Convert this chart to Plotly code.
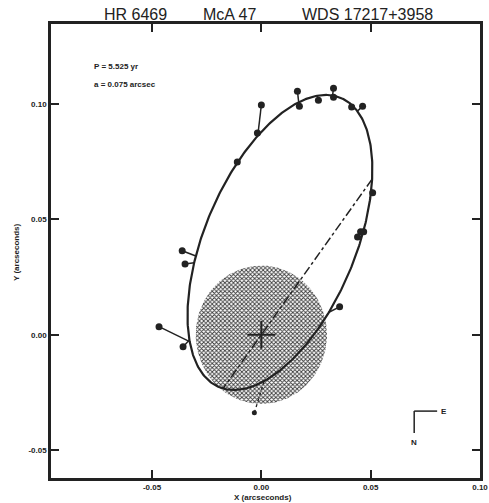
import numpy as np
import plotly.graph_objects as go

# ---- data (arcseconds) ----
obs_x = [0.0000, -0.0018, -0.0110, 0.0165, 0.0174, 0.0261, 0.0330, 0.0330, 0.0413, 0.0463,
         0.0509, 0.0454, 0.0468, 0.0440, -0.0362, -0.0349, -0.0468, -0.0358, 0.0358]
obs_y = [0.0996, 0.0874, 0.0749, 0.1056, 0.0991, 0.1017, 0.1069, 0.1030, 0.0987, 0.0991,
         0.0615, 0.0446, 0.0446, 0.0424, 0.0364, 0.0307, 0.0035, -0.0052, 0.0121]
pred_x = [-0.0018, -0.0018, -0.0110, 0.0174, 0.0174, 0.0257, 0.0330, 0.0330, 0.0404, 0.0445,
          0.0495, 0.0459, 0.0459, 0.0440, -0.0321, -0.0330, -0.0349, -0.0358, 0.0307]
pred_y = [0.0870, 0.0874, 0.0749, 0.1030, 0.1022, 0.1039, 0.1048, 0.1048, 0.1004, 0.0978,
          0.0628, 0.0437, 0.0437, 0.0424, 0.0338, 0.0307, -0.0052, -0.0052, 0.0100]

# doubtful observation (dotted residual)
dub_obs_x = [-0.0032]
dub_obs_y = [-0.0338]
dub_pred_x = [0.0014]
dub_pred_y = [-0.0190]

# apparent orbit ellipse
ell_cx, ell_cy = 0.0085, 0.0400
ell_a, ell_b = 0.0686, 0.0342
ell_theta_deg = 65.3
node_angle_deg = 53.1
circle_r = 0.030

period_txt = "P = 5.525 yr"
axis_txt = "a = 0.075 arcsec"
x_ticks = [-0.05, 0.00, 0.05, 0.10]
y_ticks = [-0.05, 0.00, 0.05, 0.10]
x_ticklabels = ["-0.05", "0.00", "0.05", "0.10"]
y_ticklabels = ["-0.05", "0.00", "0.05", "0.10"]

# ---- geometry ----
th = np.radians(ell_theta_deg)
e1 = np.array([np.cos(th), np.sin(th)])
e2 = np.array([-np.sin(th), np.cos(th)])
c = np.array([ell_cx, ell_cy])

t = np.linspace(0, 2 * np.pi, 400)
ex = ell_cx + ell_a * np.cos(t) * e1[0] + ell_b * np.sin(t) * e2[0]
ey = ell_cy + ell_a * np.cos(t) * e1[1] + ell_b * np.sin(t) * e2[1]


def snap(px, py):
    q = np.array([px, py]) - c
    u, v = q @ e1, q @ e2
    r = np.sqrt((u / ell_a) ** 2 + (v / ell_b) ** 2)
    u, v = u / r, v / r
    p = c + u * e1 + v * e2
    return p[0], p[1]


phi = np.radians(node_angle_deg)
d = np.array([np.cos(phi), np.sin(phi)])
du, dv = d @ e1, d @ e2
cu, cv = c @ e1, c @ e2
qa = du ** 2 / ell_a ** 2 + dv ** 2 / ell_b ** 2
qb = -2 * (du * cu / ell_a ** 2 + dv * cv / ell_b ** 2)
qc = cu ** 2 / ell_a ** 2 + cv ** 2 / ell_b ** 2 - 1
disc = np.sqrt(qb ** 2 - 4 * qa * qc)
s1, s2 = (-qb + disc) / (2 * qa), (-qb - disc) / (2 * qa)
node_x = [s1 * d[0], s2 * d[0]]
node_y = [s1 * d[1], s2 * d[1]]

fig = go.Figure()

# shaded circle around primary
ct = np.linspace(0, 2 * np.pi, 200)
fig.add_trace(go.Scatter(
    x=circle_r * np.cos(ct), y=circle_r * np.sin(ct), mode="lines",
    fill="toself", fillcolor="rgba(0,0,0,0)", line=dict(width=0, color="rgba(0,0,0,0)"),
    fillpattern=dict(shape="x", size=3, solidity=0.5, fgcolor="#3a3a3a", bgcolor="white",
                     fillmode="replace"),
    hoverinfo="skip", showlegend=False))

# line of nodes
fig.add_trace(go.Scatter(x=node_x, y=node_y, mode="lines",
                         line=dict(color="#222", width=1.5, dash="dashdot"),
                         showlegend=False))

# orbit
fig.add_trace(go.Scatter(x=ex, y=ey, mode="lines", line=dict(color="#222", width=2.2),
                         showlegend=False))

# residuals
rx, ry = [], []
for ox, oy, px_, py_ in zip(obs_x, obs_y, pred_x, pred_y):
    sx, sy = snap(px_, py_)
    rx += [ox, sx, None]
    ry += [oy, sy, None]
fig.add_trace(go.Scatter(x=rx, y=ry, mode="lines", line=dict(color="#222", width=1.5),
                         showlegend=False))
dx_, dy_ = [], []
for ox, oy, px_, py_ in zip(dub_obs_x, dub_obs_y, dub_pred_x, dub_pred_y):
    sx, sy = snap(px_, py_)
    dx_ += [ox, sx, None]
    dy_ += [oy, sy, None]
fig.add_trace(go.Scatter(x=dx_, y=dy_, mode="lines", line=dict(color="#222", width=1.3, dash="dot"),
                         showlegend=False))

# observations
fig.add_trace(go.Scatter(x=obs_x, y=obs_y, mode="markers",
                         marker=dict(color="#222", size=7), showlegend=False))
fig.add_trace(go.Scatter(x=dub_obs_x, y=dub_obs_y, mode="markers",
                         marker=dict(color="#222", size=5), showlegend=False))

# primary
fig.add_trace(go.Scatter(x=[0], y=[0], mode="markers",
                         marker=dict(symbol="cross-thin", size=20,
                                     line=dict(color="#222", width=2)),
                         showlegend=False))

tf = dict(family="Arial", size=8, color="#222", weight="bold")
fig.update_layout(
    width=489, height=503,
    margin=dict(l=51, r=9, t=24, b=25, autoexpand=False),
    paper_bgcolor="white", plot_bgcolor="white",
    xaxis=dict(range=[-0.0962, 0.1], tickvals=x_ticks, ticktext=x_ticklabels,
               ticks="inside", ticklen=8, tickwidth=2, tickcolor="#222",
               showline=True, linewidth=2.5, linecolor="#222", mirror="ticks",
               showgrid=False, zeroline=False, tickfont=tf, automargin=False),
    yaxis=dict(range=[-0.0621, 0.1347], tickvals=y_ticks, ticktext=y_ticklabels,
               ticks="inside", ticklen=8, tickwidth=2, tickcolor="#222",
               showline=True, linewidth=2.5, linecolor="#222", mirror="ticks",
               showgrid=False, zeroline=False, tickfont=tf, automargin=False),
    showlegend=False,
)

fig.add_annotation(text="X (arcseconds)", x=(263 - 51) / 429, y=(478 - 497) / 454,
                   xref="paper", yref="paper", xanchor="center", yanchor="middle",
                   showarrow=False, font=tf)
fig.add_annotation(text="Y (arcseconds)", x=(16 - 51) / 429, y=(478 - 252) / 454,
                   xref="paper", yref="paper", xanchor="center", yanchor="middle",
                   textangle=-90, showarrow=False, font=tf)

title_font = dict(family="Arial", size=16, color="#222")
for txt, xp in [("HR 6469", 135), ("McA 47", 229), ("WDS 17217+3958", 367)]:
    fig.add_annotation(text=txt, x=(xp - 51) / 429, y=(478 - 14) / 454, xref="paper",
                       yref="paper", xanchor="center", yanchor="middle", showarrow=False,
                       font=title_font)

fig.add_annotation(text=period_txt, x=-0.0775, y=0.1163, xanchor="left", yanchor="middle",
                   showarrow=False, font=tf)
fig.add_annotation(text=axis_txt, x=-0.0775, y=0.1083, xanchor="left", yanchor="middle",
                   showarrow=False, font=tf)

# compass
fig.add_shape(type="line", x0=0.0699, y0=-0.0331, x1=0.0804, y1=-0.0331,
              line=dict(color="#222", width=1.5))
fig.add_shape(type="line", x0=0.0699, y0=-0.0331, x1=0.0699, y1=-0.0426,
              line=dict(color="#222", width=1.5))
fig.add_annotation(text="E", x=0.0836, y=-0.0331, showarrow=False, font=tf)
fig.add_annotation(text="N", x=0.0700, y=-0.0466, showarrow=False, font=tf)

fig.write_html("out.html", config={"displayModeBar": False},
               post_script="document.body.style.margin='0';")
